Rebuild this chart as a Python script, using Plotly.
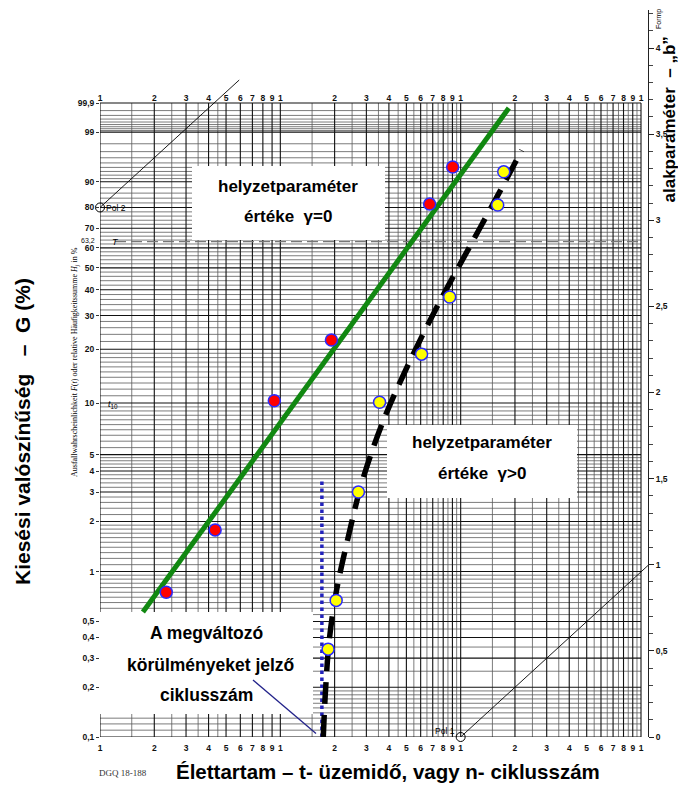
import numpy as np
import plotly.graph_objects as go

# ---------------- data ----------------
red_t = [2.33, 4.35, 9.26, 19.2, 67.3, 90.3]
red_F = [0.75, 1.78, 10.3, 22.4, 81.5, 94.1]
yellow_t = [18.4, 20.4, 27.1, 35.5, 60.7, 86.9, 160.5, 173.3]
yellow_F = [0.34, 0.67, 3.0, 10.1, 18.8, 37.0, 81.1, 92.9]
green_t = [1.73, 185.0]
green_F = [0.57, 99.84]
dashed_t = [17.3, 17.8, 18.7, 20.5, 23.6, 28.6, 37.4, 52.7, 77.4, 113.6, 166.8, 218.0]
dashed_F = [0.10, 0.19, 0.39, 0.77, 1.55, 3.54, 7.98, 17.5, 35.8, 61.5, 87.2, 97.2]
cycle_t = [17.0, 17.0]
cycle_F = [0.1, 3.5]
pol_t = [1, 100]
pol_F = [80, 0.1]
pol_b = 1.0
T_F = 63.2
t10_F = 10

F_ticks = [0.1, 0.2, 0.3, 0.4, 0.5, 1, 2, 3, 4, 5, 10, 20, 30, 40, 50, 60, 70, 80, 90, 99, 99.9]
F_labels = ['0,1', '0,2', '0,3', '0,4', '0,5', '1', '2', '3', '4', '5', '10', '20', '30',
            '40', '50', '60', '70', '80', '90', '99', '99,9']
b_ticks = [0, 0.5, 1, 1.5, 2, 2.5, 3, 3.5, 4]
b_labels = ['0', '0,5', '1', '1,5', '2', '2,5', '3', '3,5', '4']
mantissas = [1, 2, 3, 4, 5, 6, 7, 8, 9]

# ---------------- geometry ----------------
W, H = 678, 785
PL, PR, PT, PB = 100, 648, 10, 737          # plot area in pixels
GL, GR, GT, GB = 100, 641, 103, 737         # printed grid in pixels
B_PX = 172.25                               # pixels per unit of shape parameter


def wz(F):
    return np.log(-np.log(1 - np.asarray(F, dtype=float) / 100.0))


Z_BOT = float(wz(0.1))
Z_GTOP = float(wz(99.9))
PXZ = (GB - GT) / (Z_GTOP - Z_BOT)
Z_TOP = Z_BOT + (PB - PT) / PXZ
X_TOP = 3.0 * (PR - PL) / (GR - GL)
B_TOP = (PB - PT) / B_PX


def px_t(px):
    return 10 ** (3.0 * (px - GL) / (GR - GL))


def py_z(py):
    return Z_BOT + (PB - py) / PXZ


def xp(px):
    return (px - PL) / (PR - PL)


def yp(py):
    return (PB - py) / (PB - PT)


fig = go.Figure()


def seg_trace(xs, ys, color, width, dash=None):
    X, Y = [], []
    for a, b in zip(xs, ys):
        X += list(a) + [None]
        Y += list(b) + [None]
    fig.add_trace(go.Scatter(x=X, y=Y, mode='lines', hoverinfo='skip', showlegend=False,
                             line=dict(color=color, width=width, dash=dash)))


# ---------------- Weibull grid ----------------
def rng(a, b, s):
    return list(np.round(np.arange(a, b + 1e-9, s), 4))


h_all = (rng(0.1, 0.2, 0.01) + rng(0.2, 0.5, 0.05) + rng(0.5, 1, 0.05) + rng(1, 2, 0.1)
         + rng(2, 5, 0.2) + rng(5, 10, 0.5) + rng(10, 20, 1) + rng(20, 90, 2)
         + rng(90, 99, 1) + rng(99, 99.9, 0.1))
h_minor = sorted(set(h_all) - set(F_ticks))
v_major = [m * 10 ** k for k in range(3) for m in mantissas] + [1000]
v_minor = ([m * 10 ** k for k in range(3) for m in (1.5, 2.5, 3.5, 4.5)]
           + [m * 10 ** k for k in (1, 2) for m in (5.5, 6.5, 7.5, 8.5, 9.5)])

seg_trace([[1, 1000]] * len(h_minor), [[wz(f)] * 2 for f in h_minor], '#5a5a5a', 0.8)
seg_trace([[t, t] for t in v_minor], [[Z_BOT, Z_GTOP]] * len(v_minor), '#5a5a5a', 0.8)
seg_trace([[1, 1000]] * len(F_ticks), [[wz(f)] * 2 for f in F_ticks], '#111111', 1.1)
seg_trace([[t, t] for t in v_major], [[Z_BOT, Z_GTOP]] * len(v_major), '#111111', 1.1)

# characteristic life line (63,2 %)
fig.add_trace(go.Scatter(x=[px_t(115), 1000], y=[wz(T_F)] * 2, mode='lines', hoverinfo='skip',
                         showlegend=False, line=dict(color='#777777', width=1.3, dash='11px,5px')))

# ---------------- white label boxes ----------------
boxes = [(192, 385, 166, 240), (387, 577, 425, 498), (98, 313, 612, 714)]
for x0, x1, y0, y1 in boxes:
    a, b = px_t(max(x0, GL)), px_t(x1)
    c, d = py_z(y1), py_z(y0)
    fig.add_trace(go.Scatter(x=[a, b, b, a, a], y=[c, c, d, d, c], mode='lines', fill='toself',
                             fillcolor='white', line=dict(width=0, color='white'),
                             hoverinfo='skip', showlegend=False))

# pointer from the label to the cycle-number line
fig.add_trace(go.Scatter(x=[px_t(253), px_t(316)], y=[py_z(680), float(wz(0.105))], mode='lines',
                         line=dict(color='#22228a', width=1.3), hoverinfo='skip', showlegend=False))

# ---------------- pole lines (b = 1) ----------------
z_pol2 = float(wz(pol_F[0]))
t_pol2_end = np.exp((py_z(80) - z_pol2) / pol_b) * pol_t[0]
fig.add_trace(go.Scatter(x=[pol_t[0], t_pol2_end],
                         y=[z_pol2, z_pol2 + pol_b * np.log(t_pol2_end / pol_t[0])],
                         mode='lines', line=dict(color='black', width=0.9),
                         hoverinfo='skip', showlegend=False, cliponaxis=False))
z_pol1 = float(wz(pol_F[1]))
t_pol1_end = 10 ** X_TOP
fig.add_trace(go.Scatter(x=[pol_t[1], t_pol1_end],
                         y=[z_pol1, z_pol1 + pol_b * np.log(t_pol1_end / pol_t[1])],
                         mode='lines', line=dict(color='black', width=0.9),
                         hoverinfo='skip', showlegend=False))
fig.add_trace(go.Scatter(x=pol_t, y=wz(pol_F), mode='markers', cliponaxis=False,
                         marker=dict(symbol='circle-open', size=9, color='black',
                                     line=dict(width=1, color='black')),
                         hoverinfo='skip', showlegend=False))

# ---------------- fitted lines ----------------
fig.add_trace(go.Scatter(x=green_t, y=wz(green_F), mode='lines',
                         line=dict(color='#118811', width=5), showlegend=False))
fig.add_trace(go.Scatter(x=cycle_t, y=wz(cycle_F), mode='lines',
                         line=dict(color='#2222bb', width=3.5, dash='dot'), showlegend=False))
fig.add_trace(go.Scatter(x=dashed_t, y=wz(dashed_F), mode='lines', line_shape='spline',
                         line=dict(color='black', width=5.5, dash='22px,11px'), showlegend=False))

# ---------------- data points ----------------
fig.add_trace(go.Scatter(x=red_t, y=wz(red_F), mode='markers', showlegend=False,
                         marker=dict(size=12, color='#ff0000', line=dict(color='#2a2aff', width=1.5))))
fig.add_trace(go.Scatter(x=yellow_t, y=wz(yellow_F), mode='markers', showlegend=False,
                         marker=dict(size=12, color='#ffff00', line=dict(color='#2a2aff', width=1.5))))

# dummy traces for the secondary axes
fig.add_trace(go.Scatter(x=[1], y=[0], xaxis='x2', yaxis='y', mode='markers',
                         marker=dict(opacity=0), hoverinfo='skip', showlegend=False))
fig.add_trace(go.Scatter(x=[1], y=[0], xaxis='x', yaxis='y2', mode='markers',
                         marker=dict(opacity=0), hoverinfo='skip', showlegend=False))

# ---------------- axes ----------------
x_vals = [m * 10 ** k for k in range(3) for m in mantissas] + [1000]
x_text = [str(m) for k in range(3) for m in mantissas] + ['1']
tickfont = dict(family='Liberation Sans', size=8.5, color='#111111', weight='bold')

common_x = dict(type='log', range=[0, X_TOP], tickvals=x_vals, ticktext=x_text, showgrid=False,
                zeroline=False, showline=False, ticks='', tickfont=tickfont, fixedrange=True)
fig.update_layout(
    width=W, height=H, paper_bgcolor='white', plot_bgcolor='white',
    margin=dict(l=PL, r=W - PR, t=PT, b=H - PB), showlegend=False,
    xaxis=dict(**common_x, ticklabelstandoff=4),
    xaxis2=dict(**common_x, overlaying='x', side='top', anchor='free', position=yp(GT)),
    yaxis=dict(range=[Z_BOT, Z_TOP], tickvals=wz(F_ticks), ticktext=F_labels, showgrid=False,
               zeroline=False, showline=False, ticks='outside', ticklen=3, tickwidth=1,
               tickcolor='#333333', tickfont=tickfont),
    yaxis2=dict(range=[0, B_TOP], overlaying='y', side='right', anchor='x', tickvals=b_ticks,
                ticktext=b_labels, ticks='outside', ticklen=5, tickwidth=1, tickcolor='#222222',
                showline=True, linecolor='#222222', linewidth=1, showgrid=False, zeroline=False,
                tickfont=tickfont,
                minor=dict(tickmode='linear', tick0=0, dtick=0.1, ticks='outside', ticklen=4,
                           tickcolor='#444444', showgrid=False)),
)

# ---------------- texts ----------------
ann = []


def add_text(text, px, py, size, xanchor='center', angle=0, family='Liberation Sans',
             bold=False, color='black'):
    ann.append(dict(text=text, x=xp(px), y=yp(py), xref='paper', yref='paper', showarrow=False,
                    xanchor=xanchor, yanchor='middle', textangle=angle,
                    font=dict(family=family, size=size, color=color,
                              weight='bold' if bold else 'normal')))


add_text('helyzetparaméter', 288, 186, 17, bold=True)
add_text('értéke  γ=0', 288, 216, 17, bold=True)
add_text('helyzetparaméter', 482, 442, 17, bold=True)
add_text('értéke  γ>0', 482, 473, 17, bold=True)
add_text('A megváltozó', 206, 633, 17.5, bold=True)
add_text('körülményeket jelző', 210, 665, 17.5, bold=True)
add_text('ciklusszám', 206, 695, 17.5, bold=True)
add_text('Kiesési valószínűség   –  G (%)', 22, 432, 21, angle=-90, bold=True)
add_text('Ausfallwahrscheinlichkeit <i>F</i>(<i>t</i>) oder relative Häufigkeitssumme '
         '<i>H</i><sub><i>j</i></sub> in %', 75, 362, 8, angle=-90, family='Liberation Serif')
add_text('Élettartam – t- üzemidő, vagy n- ciklusszám', 388, 771, 20.5, bold=True)
add_text('DGQ 18-188', 123, 773, 9, family='Liberation Serif', color='#333333')
add_text('alakparaméter  – „b”', 668.5, 120, 17, angle=-90, bold=True)
add_text('Formp', 659, 19, 7, angle=-90)
add_text('Pol 2', 104, 208, 8.5, xanchor='left')
add_text('Pol 1', 457, 731, 8.5, xanchor='right')
add_text('63,2', 88, 240, 7, color='#111111')
add_text('<i>T</i>', 110, 242, 9, xanchor='left')
add_text('<i>t</i><sub>10</sub>', 106, 404, 9, xanchor='left')
fig.update_layout(annotations=ann)

fig.write_html('out.html')
